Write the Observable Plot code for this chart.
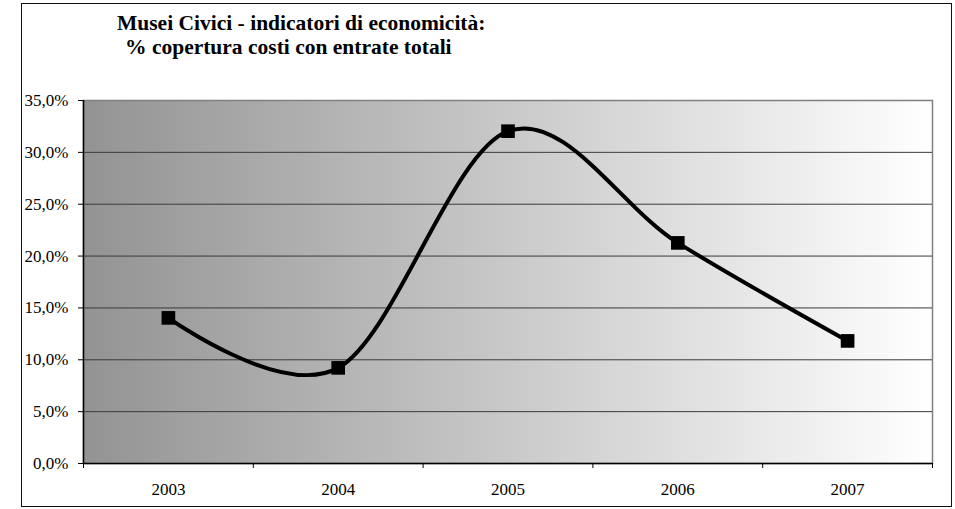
<!DOCTYPE html>
<html>
<head>
<meta charset="utf-8">
<script src="https://cdn.jsdelivr.net/npm/d3@7"></script>
<script src="https://cdn.jsdelivr.net/npm/@observablehq/plot@0.6"></script>
<style>
  html, body { margin: 0; padding: 0; background: #fff; }
  #wrap { position: relative; width: 955px; height: 509px; overflow: hidden; }
  #frameBox { position: absolute; left: 21px; top: 3px; width: 929px; height: 502px; border: 1.5px solid #111; pointer-events: none; }
  #title { position: relative; height: 70px; font-family: "Liberation Serif", "Times New Roman", serif; font-weight: bold; font-size: 21.5px; color: #000; }
  #title div { position: absolute; white-space: pre; line-height: 24px; }
  #chart svg { display: block; }
</style>
</head>
<body>
<div id="wrap">
  <div id="title"></div>
  <div id="chart"></div>
  <div id="frameBox"></div>
</div>
<script>
const titleLines = ["Musei Civici - indicatori di economicità:", "% copertura costi con entrate totali"];
const years = [2003, 2004, 2005, 2006, 2007];
const coverage = [0.1404, 0.0922, 0.3204, 0.2127, 0.1182];
const yTicks = [0, 0.05, 0.10, 0.15, 0.20, 0.25, 0.30, 0.35];
const bandEdges = [2002.5, 2003.5, 2004.5, 2005.5, 2006.5, 2007.5];

const titleEl = document.getElementById("title");
const tpos = [{left: 117, top: 11}, {left: 125, top: 35}];
titleLines.forEach((t, i) => {
  const d = document.createElement("div");
  d.textContent = t;
  d.style.left = tpos[i].left + "px";
  d.style.top = tpos[i].top + "px";
  titleEl.appendChild(d);
});

const data = years.map((year, i) => ({year, value: coverage[i]}));
const fmt = d => (d * 100).toFixed(1).replace(".", ",") + "%";

const svg = Plot.plot({
  width: 955,
  height: 439,
  marginLeft: 83,
  marginRight: 23,
  marginTop: 30,
  marginBottom: 46,
  x: {domain: [bandEdges[0], bandEdges[bandEdges.length - 1]], axis: null},
  y: {domain: [0, 0.35], axis: null},
  style: {fontFamily: "Liberation Serif, Times New Roman, serif", fontSize: "17px", color: "#000", background: "transparent"},
  marks: [
    Plot.frame({fill: "url(#bgGrad)", stroke: "#808080", strokeWidth: 1.5}),
    Plot.ruleY(yTicks.slice(1, -1), {stroke: "#3a3a3a", strokeWidth: 1}),
    Plot.ruleY([0], {stroke: "#000", strokeWidth: 1.5}),
    Plot.ruleX([bandEdges[0]], {stroke: "#000", strokeWidth: 1.5}),
    Plot.axisY({ticks: yTicks, tickSize: 5, tickPadding: 10, tickFormat: fmt, label: null, fontSize: 17, stroke: "#000"}),
    Plot.axisX({ticks: bandEdges, tickSize: 5, tickFormat: () => "", label: null, stroke: "#000"}),
    Plot.axisX({ticks: years, tickSize: 0, tickPadding: 19, tickFormat: d => String(d), label: null, fontSize: 17}),
    Plot.line(data, {x: "year", y: "value", curve: "cardinal", tension: 0, stroke: "#000", strokeWidth: 4}),
    Plot.dot(data, {x: "year", y: "value", symbol: "square", r: 7.7, fill: "#000", stroke: "none"})
  ]
});

const ns = "http://www.w3.org/2000/svg";
const defs = document.createElementNS(ns, "defs");
const grad = document.createElementNS(ns, "linearGradient");
grad.setAttribute("id", "bgGrad");
grad.setAttribute("x1", "0"); grad.setAttribute("x2", "1");
grad.setAttribute("y1", "0"); grad.setAttribute("y2", "0");
[["0", "#939393"], ["1", "#ffffff"]].forEach(([o, c]) => {
  const s = document.createElementNS(ns, "stop");
  s.setAttribute("offset", o);
  s.setAttribute("stop-color", c);
  grad.appendChild(s);
});
defs.appendChild(grad);
svg.insertBefore(defs, svg.firstChild);
document.getElementById("chart").appendChild(svg);
</script>
</body>
</html>
